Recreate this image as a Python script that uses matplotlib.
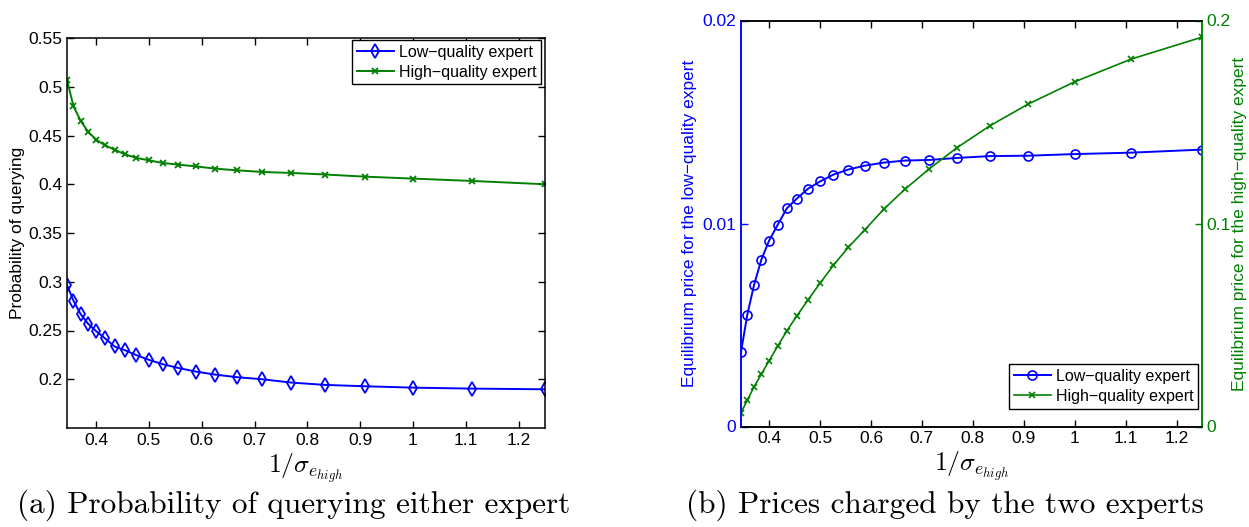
import numpy as np
import matplotlib
matplotlib.use('Agg')
import matplotlib.pyplot as plt

plt.rcParams['font.family'] = ['Liberation Sans', 'DejaVu Sans']
plt.rcParams['mathtext.fontset'] = 'cm'
plt.rcParams['xtick.direction'] = 'in'
plt.rcParams['ytick.direction'] = 'in'

# x = 1/sigma_e_high
inv_sigma = [0.3448, 0.3571, 0.3704, 0.3846, 0.4000, 0.4167, 0.4348, 0.4545,
             0.4762, 0.5000, 0.5263, 0.5556, 0.5882, 0.6250, 0.6667, 0.7143,
             0.7692, 0.8333, 0.9091, 1.0000, 1.1111, 1.2500]

# (a) probability of querying
prob_low = [0.2966, 0.2805, 0.2670, 0.2570, 0.2493, 0.2420, 0.2336, 0.2298,
            0.2247, 0.2199, 0.2154, 0.2116, 0.2079, 0.2048, 0.2021, 0.2000,
            0.1966, 0.1942, 0.1928, 0.1914, 0.1904, 0.1897]
prob_high = [0.5068, 0.4800, 0.4653, 0.4540, 0.4457, 0.4400, 0.4355, 0.4307,
             0.4270, 0.4245, 0.4218, 0.4201, 0.4184, 0.4160, 0.4143, 0.4126,
             0.4116, 0.4100, 0.4078, 0.4058, 0.4034, 0.4000]

# (b) equilibrium prices
price_low = [0.00367, 0.00550, 0.00697, 0.00821, 0.00916, 0.00993, 0.01075,
             0.01123, 0.01171, 0.01207, 0.01241, 0.01266, 0.01285, 0.01300,
             0.01310, 0.01313, 0.01323, 0.01332, 0.01334, 0.01342, 0.01349,
             0.01364]
price_high = [0.0068, 0.0129, 0.0195, 0.0257, 0.0324, 0.0395, 0.0471, 0.0545,
              0.0623, 0.0706, 0.0794, 0.0883, 0.0970, 0.1070, 0.1169, 0.1269,
              0.1374, 0.1481, 0.1589, 0.1698, 0.1810, 0.1918]

xticks = [0.4, 0.5, 0.6, 0.7, 0.8, 0.9, 1.0, 1.1, 1.2]
xticklabels = ['0.4', '0.5', '0.6', '0.7', '0.8', '0.9', '1', '1.1', '1.2']
yticks_a = [0.2, 0.25, 0.3, 0.35, 0.4, 0.45, 0.5, 0.55]
yticklabels_a = ['0.2', '0.25', '0.3', '0.35', '0.4', '0.45', '0.5', '0.55']

BLUE = (0, 0, 1)
GREEN = (0, 0.5, 0)
W, H = 1249.0, 527.0
xlab = r'$1/\sigma_{e_{high}}$'
TICK = 12.5
LEG = 11.5

fig = plt.figure(figsize=(12.49, 5.27), dpi=100)

# ---------- (a)
ax1 = fig.add_axes([67 / W, 1 - 428 / H, 478 / W, 390 / H])
ax1.plot(inv_sigma, prob_low, color=BLUE, marker='d', mfc='none', ms=7,
         mew=1.3, lw=1.4, label='Low\u2212quality expert')
ax1.plot(inv_sigma, prob_high, color=GREEN, marker='x', ms=4.5, mew=1.3,
         lw=1.4, label='High\u2212quality expert')
ax1.set_xlim(inv_sigma[0], inv_sigma[-1])
ax1.set_ylim(0.15, 0.55)
ax1.set_xticks(xticks)
ax1.set_xticklabels(xticklabels)
ax1.set_yticks(yticks_a)
ax1.set_yticklabels(yticklabels_a)
ax1.tick_params(top=True, right=True, length=5, width=1, labelsize=TICK)
for s in ax1.spines.values():
    s.set_linewidth(1.1)
ax1.set_ylabel('Probability of querying', fontsize=12.5)
ax1.yaxis.set_label_coords(-0.088, 0.5)
ax1.set_xlabel(xlab, fontsize=18.5, labelpad=2)
ax1.legend(loc='upper right', bbox_to_anchor=(1 - 4 / 478, 1 - 2 / 390),
           fancybox=False, edgecolor='black', framealpha=1, fontsize=LEG,
           borderaxespad=0, numpoints=1, handlelength=2.3,
           handletextpad=0.3, borderpad=0.3, labelspacing=0.3)

# ---------- (b)
ax2 = fig.add_axes([741 / W, 1 - 426.5 / H, 461 / W, 406 / H])
ax3 = ax2.twinx()
l1, = ax2.plot(inv_sigma, price_low, color=BLUE, marker='o', mfc='none',
               ms=6.5, mew=1.2, lw=1.4, label='Low\u2212quality expert')
l2, = ax3.plot(inv_sigma, price_high, color=GREEN, marker='x', ms=4.5,
               mew=1.2, lw=1.2, label='High\u2212quality expert')
ax2.set_xlim(inv_sigma[0], inv_sigma[-1])
ax2.set_ylim(0, 0.02)
ax3.set_ylim(0, 0.2)
ax2.set_xticks(xticks)
ax2.set_xticklabels(xticklabels)
ax2.set_yticks([0, 0.01, 0.02])
ax2.set_yticklabels(['0', '0.01', '0.02'])
ax3.set_yticks([0, 0.1, 0.2])
ax3.set_yticklabels(['0', '0.1', '0.2'])
ax2.tick_params(axis='x', top=True, length=5, width=1, labelsize=TICK)
ax2.tick_params(axis='y', colors=BLUE, length=5, width=1, labelsize=TICK)
ax3.tick_params(axis='y', colors=GREEN, length=5, width=1, labelsize=TICK)
for s in list(ax2.spines.values()) + list(ax3.spines.values()):
    s.set_linewidth(1.1)
ax3.spines['left'].set_color(BLUE)
ax2.spines['left'].set_color(BLUE)
ax3.spines['right'].set_color(GREEN)
ax2.spines['right'].set_color(GREEN)
ax2.set_ylabel('Equilibrium price for the low\u2212quality expert',
               fontsize=12.5, color=BLUE)
ax2.yaxis.set_label_coords(-0.095, 0.5)
ax3.set_ylabel('Equilibrium price for the high\u2212quality expert',
               fontsize=12.5, color=GREEN)
ax3.yaxis.set_label_coords(1.065, 0.5)
ax2.set_xlabel(xlab, fontsize=18.5, labelpad=2)
ax3.legend([l1, l2], [l1.get_label(), l2.get_label()], loc='lower right',
           bbox_to_anchor=(1 - 4 / 461, 18 / 406), fancybox=False,
           edgecolor='black', framealpha=1, fontsize=LEG, borderaxespad=0,
           numpoints=1, handlelength=2.3, handletextpad=0.3, borderpad=0.3,
           labelspacing=0.3)

# captions
fig.text(0.2347, 1 - 505 / H, '(a) Probability of querying either expert',
         family='cmr10', fontsize=22.5, ha='center', va='center')
fig.text(0.7566, 1 - 505 / H, '(b) Prices charged by the two experts',
         family='cmr10', fontsize=22.5, ha='center', va='center')

fig.savefig('out.png', dpi=100)
